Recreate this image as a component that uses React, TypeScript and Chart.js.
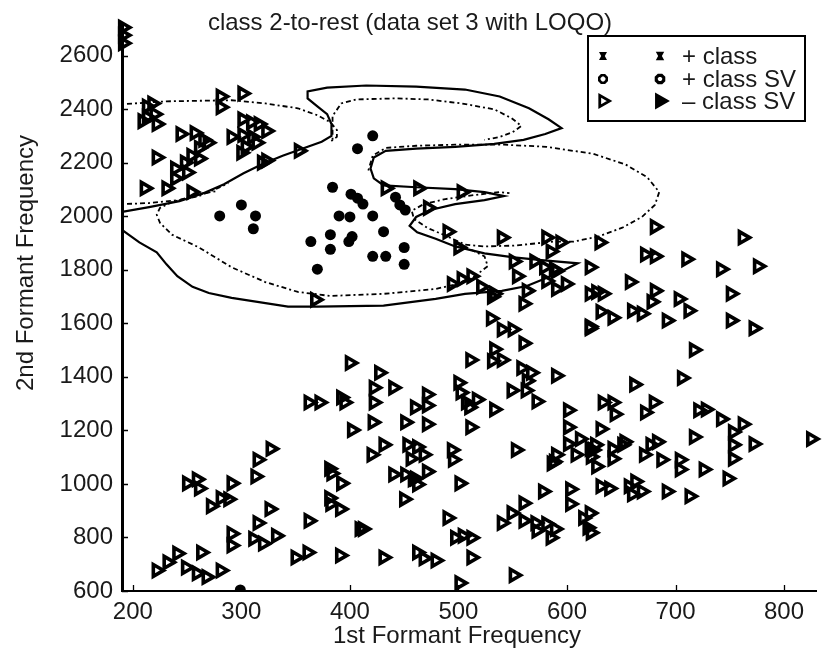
import React, { useEffect, useRef } from 'react';
import { Chart, registerables } from 'chart.js';

Chart.register(...registerables);

const FONT = '"Liberation Sans", Arial, Helvetica, sans-serif';
const INK = '#1a1a1a';

const TITLE = 'class 2-to-rest (data set 3 with LOQO)';
const X_TITLE = '1st Formant Frequency';
const Y_TITLE = '2nd Formant Frequency';
const LEGEND_LABELS = ['+ class', '+ class SV', '\u2013 class SV'];

const X_TICKS = [200, 300, 400, 500, 600, 700, 800];
const Y_TICKS = [600, 800, 1000, 1200, 1400, 1600, 1800, 2000, 2200, 2400, 2600];

// [F1, F2] of the positive class
const positiveClass: [number, number][] = [
  [280, 2001], [300, 2042], [313, 2001], [311, 1953], [384, 2108], [401, 2082],
  [407, 2067], [412, 2045], [421, 2001], [390, 2001], [400, 1997], [431, 1942],
  [382, 1931], [402, 1924], [399, 1905], [364, 1905], [382, 1876], [421, 1850],
  [433, 1850], [450, 1883], [450, 1820], [370, 1802], [421, 2300], [407, 2252],
  [442, 2071], [446, 2042], [451, 2023], [299, 604],
];

// [F1, F2] of the negative-class support vectors
const negativeSV: [number, number][] = [
  [191, 2705], [191, 2676], [191, 2646],
  [213, 2410], [218, 2421], [213, 2370], [220, 2381], [209, 2355], [222, 2344],
  [222, 2219], [211, 2104], [231, 2104], [254, 2090],
  [244, 2307], [257, 2311], [265, 2285], [269, 2274], [261, 2255], [254, 2226],
  [248, 2200], [239, 2178], [239, 2141], [250, 2163], [261, 2215],
  [281, 2447], [281, 2407], [301, 2458],
  [301, 2362], [309, 2351], [316, 2344], [323, 2318], [291, 2296], [301, 2303],
  [310, 2296], [304, 2259], [300, 2237], [314, 2274],
  [319, 2200], [323, 2208], [353, 2244], [368, 1688],
  [433, 2104], [463, 2104], [503, 2090], [472, 2031], [490, 1942], [500, 1883],
  [540, 1920], [581, 1920], [594, 1902], [585, 1868], [551, 1831], [554, 1776],
  [570, 1831], [579, 1809], [588, 1802], [581, 1758], [599, 1747], [563, 1721],
  [560, 1673], [494, 1747], [503, 1765], [512, 1776], [521, 1736], [533, 1710],
  [621, 1809], [621, 1710], [630, 1902],
  [681, 1960], [672, 1857], [681, 1850], [710, 1839], [742, 1802], [762, 1920],
  [776, 1813], [627, 1717], [633, 1710], [658, 1754], [681, 1721], [678, 1680],
  [660, 1647], [669, 1636], [631, 1643], [642, 1621], [621, 1581], [692, 1610],
  [703, 1691], [712, 1647], [751, 1710], [751, 1610], [772, 1581], [717, 1500],
  [590, 1795], [590, 1728],
  [530, 1618], [540, 1577], [550, 1577], [560, 1525], [533, 1503], [531, 1459],
  [540, 1463], [511, 1463], [558, 1433], [563, 1385], [567, 1415], [549, 1349],
  [562, 1349], [572, 1308], [590, 1404], [500, 1378], [502, 1341], [507, 1304],
  [517, 1315], [510, 1286], [533, 1278], [511, 1212], [553, 1127], [601, 1275],
  [601, 1212], [612, 1168], [621, 1131], [621, 1588], [531, 1699],
  [400, 1452], [427, 1415], [422, 1359], [440, 1359], [422, 1304], [395, 1304],
  [460, 1286], [471, 1334], [471, 1293], [421, 1230], [451, 1230], [471, 1223],
  [402, 1201], [431, 1146], [453, 1146], [462, 1138], [468, 1109], [420, 1109],
  [494, 1127], [495, 1090], [590, 1109], [608, 1109], [626, 1146],
  [662, 1371], [706, 1396], [633, 1304], [642, 1304], [644, 1260], [631, 1205],
  [680, 1304], [672, 1267], [721, 1275], [728, 1278], [742, 1242], [762, 1223],
  [717, 1175], [753, 1194], [753, 1146], [753, 1094], [772, 1149], [825, 1168],
  [748, 1020], [726, 1054], [704, 1090], [704, 1054], [677, 1146], [683, 1157],
  [687, 1090], [671, 1109], [653, 1157], [642, 1131], [642, 1094], [627, 1065],
  [631, 991], [639, 983], [657, 991], [663, 1009], [669, 972], [660, 961],
  [692, 972], [713, 954], [651, 1146], [624, 1127], [622, 1101], [601, 1149],
  [588, 1083],
  [440, 1035], [451, 1035], [458, 1017], [471, 1046], [462, 998], [450, 943],
  [456, 1094], [501, 1002], [586, 1076], [578, 972], [603, 980], [603, 925],
  [490, 873], [412, 832], [497, 799], [504, 806], [512, 799], [540, 854],
  [549, 891], [560, 928], [560, 862], [571, 854], [572, 825], [581, 851],
  [585, 799], [589, 832], [615, 873], [621, 891], [619, 836], [622, 818],
  [431, 725], [462, 744], [468, 722], [479, 714], [512, 725], [551, 659],
  [501, 630], [460, 1020],
  [362, 1304], [372, 1304], [392, 1323], [327, 1131], [315, 1090], [313, 1028],
  [250, 1002], [259, 1017], [261, 983], [291, 1002], [272, 917], [281, 947],
  [288, 943], [326, 906], [315, 854], [362, 862], [381, 1057], [383, 1039],
  [392, 1002], [381, 947], [382, 925], [391, 906], [291, 814], [291, 770],
  [311, 795], [320, 777], [332, 806], [263, 744], [241, 740], [232, 707],
  [222, 677], [249, 688], [259, 666], [268, 652], [281, 677], [350, 725],
  [361, 744], [391, 733], [409, 832],
];

// decision boundary f(x) = 0
const boundary: [number, number][] = [
  [190, 2016], [215, 2034], [243, 2056], [265, 2086], [284, 2119], [302, 2160],
  [320, 2196], [338, 2226], [356, 2252], [374, 2278], [383, 2300], [383, 2344],
  [379, 2381], [370, 2410], [361, 2440], [361, 2466], [379, 2480], [415, 2488],
  [461, 2484], [506, 2473], [538, 2447], [565, 2403], [583, 2362], [595, 2329],
  [580, 2307], [560, 2285], [533, 2270], [497, 2259], [461, 2252], [433, 2244],
  [422, 2219], [419, 2178], [422, 2141], [431, 2115], [461, 2108], [497, 2101],
  [524, 2090], [542, 2075], [524, 2060], [497, 2045], [474, 2023], [461, 1997],
  [455, 1964], [462, 1940], [479, 1916], [497, 1887], [524, 1861], [551, 1846],
  [579, 1835], [610, 1824], [597, 1798], [581, 1769], [563, 1739], [540, 1721],
  [506, 1710], [479, 1691], [431, 1666], [370, 1662], [343, 1662], [291, 1695],
  [270, 1713], [255, 1736], [241, 1776], [231, 1820], [222, 1865], [206, 1902],
  [190, 1949],
];

// margins f(x) = +/-1
const marginTop: [number, number][] = [
  [190, 2418], [231, 2429], [291, 2433], [322, 2421], [352, 2403], [370, 2377],
  [382, 2351], [388, 2322], [388, 2296], [382, 2278],
];
const marginLobe: [number, number][] = [
  [384, 2285], [384, 2374], [392, 2421], [406, 2436], [442, 2440], [472, 2436],
  [503, 2421], [533, 2399], [549, 2366], [558, 2337], [550, 2314], [538, 2296],
  [524, 2285],
];
const marginRight: [number, number][] = [
  [417, 2171], [421, 2226], [433, 2255], [461, 2263], [497, 2267], [542, 2267],
  [581, 2259], [624, 2233], [654, 2193], [674, 2145], [685, 2090], [681, 2042],
  [669, 1997], [651, 1957], [629, 1924], [606, 1905], [588, 1905], [551, 1890],
  [524, 1887], [506, 1894], [490, 1924], [471, 1957], [459, 1990], [457, 2020],
  [468, 2045], [488, 2064], [515, 2079], [538, 2090], [547, 2086],
];
const marginInner: [number, number][] = [
  [276, 2093], [267, 2086], [249, 2067], [236, 2053], [225, 2031], [222, 2005],
  [225, 1975], [236, 1931], [261, 1883], [291, 1809], [322, 1754], [352, 1717],
  [382, 1702], [431, 1710], [461, 1721], [479, 1728], [499, 1747], [515, 1776],
  [527, 1813], [524, 1850], [513, 1872], [501, 1887],
];
const marginLeft: [number, number][] = [
  [190, 2045], [215, 2049], [243, 2060], [261, 2075], [274, 2097], [288, 2123],
];

const pts = (arr: [number, number][]) => arr.map(([x, y]) => ({ x, y }));

const DOT_DASH = [2, 3, 5, 3];

const curve = (data: [number, number][], dashed: boolean) => ({
  type: 'scatter' as const,
  data: pts(data),
  showLine: true,
  borderColor: '#000',
  backgroundColor: '#000',
  borderWidth: dashed ? 1.8 : 2.2,
  borderDash: dashed ? DOT_DASH : [],
  pointRadius: 0,
  tension: 0,
  fill: false,
});

function drawTriangle(ctx: CanvasRenderingContext2D, x: number, y: number, r: number, lw: number, filled: boolean) {
  ctx.beginPath();
  ctx.moveTo(x + r, y);
  ctx.lineTo(x - r * 0.5, y - r * 0.866);
  ctx.lineTo(x - r * 0.5, y + r * 0.866);
  ctx.closePath();
  ctx.lineWidth = lw;
  ctx.lineJoin = 'miter';
  if (filled) ctx.fill();
  ctx.stroke();
}

function drawOctagon(ctx: CanvasRenderingContext2D, x: number, y: number, r: number, lw: number) {
  ctx.beginPath();
  for (let i = 0; i < 8; i++) {
    const a = (Math.PI / 4) * i + Math.PI / 8;
    const px = x + r * Math.cos(a);
    const py = y + r * Math.sin(a);
    if (i === 0) ctx.moveTo(px, py);
    else ctx.lineTo(px, py);
  }
  ctx.closePath();
  ctx.lineWidth = lw;
  ctx.stroke();
}

function drawBowtie(ctx: CanvasRenderingContext2D, x: number, y: number, s: number) {
  ctx.beginPath();
  ctx.moveTo(x - s, y - s);
  ctx.lineTo(x + s, y - s);
  ctx.lineTo(x + s * 0.45, y);
  ctx.lineTo(x + s, y + s);
  ctx.lineTo(x - s, y + s);
  ctx.lineTo(x - s * 0.45, y);
  ctx.closePath();
  ctx.fill();
}

const decorations = {
  id: 'decorations',
  afterDraw(chart: any) {
    const { ctx, chartArea, scales } = chart;
    const xs = scales.x;
    const ys = scales.y;
    ctx.save();

    // inward tick marks
    ctx.strokeStyle = '#000';
    ctx.lineWidth = 1.3;
    ctx.beginPath();
    X_TICKS.forEach((v) => {
      const px = Math.round(xs.getPixelForValue(v)) + 0.5;
      ctx.moveTo(px, chartArea.bottom);
      ctx.lineTo(px, chartArea.bottom - 6);
    });
    Y_TICKS.forEach((v) => {
      const py = Math.round(ys.getPixelForValue(v)) + 0.5;
      ctx.moveTo(chartArea.left, py);
      ctx.lineTo(chartArea.left + 6, py);
    });
    ctx.stroke();

    // titles
    ctx.fillStyle = INK;
    ctx.textAlign = 'center';
    ctx.textBaseline = 'middle';
    ctx.font = `24px ${FONT}`;
    ctx.fillText(TITLE, 410, 23);
    ctx.fillText(X_TITLE, 457, 636);
    ctx.save();
    ctx.translate(26, 263);
    ctx.rotate(-Math.PI / 2);
    ctx.fillText(Y_TITLE, 0, 0);
    ctx.restore();

    // legend box
    const bx = 588, by = 36, bw = 217, bh = 85;
    ctx.fillStyle = '#fff';
    ctx.fillRect(bx, by, bw, bh);
    ctx.strokeStyle = '#000';
    ctx.lineWidth = 2;
    ctx.strokeRect(bx, by, bw, bh);

    const rows = [56, 79, 101];
    const c1 = 603, c2 = 660;
    ctx.fillStyle = '#000';
    ctx.strokeStyle = '#000';
    drawBowtie(ctx, c1, rows[0], 4);
    drawBowtie(ctx, c2, rows[0], 4.2);
    drawOctagon(ctx, c1, rows[1], 4, 2.6);
    drawOctagon(ctx, c2, rows[1], 4, 3.2);
    drawTriangle(ctx, c1, rows[2], 6.5, 2.8, false);
    drawTriangle(ctx, c2, rows[2], 6.5, 3.4, true);

    ctx.fillStyle = INK;
    ctx.textAlign = 'left';
    ctx.textBaseline = 'middle';
    ctx.font = `24px ${FONT}`;
    LEGEND_LABELS.forEach((t, i) => ctx.fillText(t, 682, rows[i] + 1));

    ctx.restore();
  },
};

const plainTick = (value: number | string) => String(value);

export default function App() {
  const canvasRef = useRef<HTMLCanvasElement | null>(null);

  useEffect(() => {
    const canvas = canvasRef.current;
    if (!canvas) return;
    const chart = new Chart(canvas, {
      type: 'scatter',
      data: {
        datasets: [
          {
            type: 'scatter',
            label: '- class SV',
            data: pts(negativeSV),
            pointStyle: 'triangle',
            pointRotation: 90,
            rotation: 90,
            pointRadius: 6.8,
            radius: 6.8,
            pointBorderWidth: 3.6,
            borderWidth: 3.6,
            pointBorderColor: '#000',
            borderColor: '#000',
            pointBackgroundColor: 'rgba(0,0,0,0)',
            backgroundColor: 'rgba(0,0,0,0)',
            clip: false,
          } as any,
          {
            type: 'scatter',
            label: '+ class',
            data: pts(positiveClass),
            pointStyle: 'circle',
            pointRadius: 5.5,
            radius: 5.5,
            pointBorderWidth: 0,
            borderWidth: 0,
            pointBackgroundColor: '#000',
            backgroundColor: '#000',
            pointBorderColor: '#000',
            borderColor: '#000',
            clip: 0,
          } as any,
          curve(boundary, false),
          curve(marginTop, true),
          curve(marginLobe, true),
          curve(marginRight, true),
          curve(marginInner, true),
          curve(marginLeft, true),
        ],
      },
      options: {
        responsive: false,
        animation: false,
        devicePixelRatio: 1,
        events: [],
        layout: { padding: { top: 16, right: 0, bottom: 0, left: 0 } },
        plugins: {
          legend: { display: false },
          title: { display: false },
          tooltip: { enabled: false },
        },
        scales: {
          x: {
            type: 'linear',
            min: 190,
            max: 830,
            afterBuildTicks: (scale: any) => {
              scale.ticks = X_TICKS.map((value) => ({ value }));
            },
            afterFit: (scale: any) => {
              scale.height = 61;
            },
            grid: { display: false, drawTicks: false },
            border: { display: true, color: '#000', width: 2 },
            ticks: {
              font: { family: FONT, size: 24 },
              color: INK,
              padding: 7,
              maxRotation: 0,
              autoSkip: false,
              callback: plainTick,
            },
          },
          y: {
            type: 'linear',
            min: 600,
            max: 2720,
            afterBuildTicks: (scale: any) => {
              scale.ticks = Y_TICKS.map((value) => ({ value }));
            },
            afterFit: (scale: any) => {
              scale.width = 122;
            },
            grid: { display: false, drawTicks: false },
            border: { display: true, color: '#000', width: 3 },
            ticks: {
              font: { family: FONT, size: 24 },
              color: INK,
              padding: 9,
              autoSkip: false,
              callback: plainTick,
            },
          },
        },
      } as any,
      plugins: [decorations],
    });
    return () => chart.destroy();
  }, []);

  return (
    <div style={{ position: 'absolute', left: 0, top: 0, width: 827, height: 652, background: '#fff' }}>
      <canvas ref={canvasRef} width={827} height={652} style={{ display: 'block' }} />
    </div>
  );
}
